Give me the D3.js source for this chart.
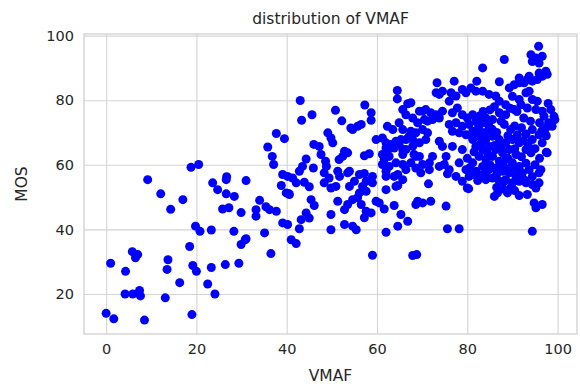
<!DOCTYPE html>
<html>
<head>
<meta charset="utf-8">
<script src="https://cdn.jsdelivr.net/npm/d3@7"></script>
<style>
  body { margin: 0; background: #fff; }
  svg text { font-family: "DejaVu Sans", sans-serif; fill: #262626; }
</style>
</head>
<body>
<svg id="chart" width="580" height="384"></svg>
<script>
(function() {
  var vmaf, mos, xTicks, yTicks, title, xLabel, yLabel;
  var svg, x, y, left, right, top, bottom, g;

  title = 'distribution of VMAF';
  xLabel = 'VMAF';
  yLabel = 'MOS';
  xTicks = [0, 20, 40, 60, 80, 100];
  yTicks = [20, 40, 60, 80, 100];

  // values, one line per group of points
  vmaf = [
    9.2, 12.1, 17.0, 14.3, 19.8, 20.8, 23.3, 28.3, 29.9, 30.8,
    18.5, 5.8, 7.0, 6.5, 1.0, 4.3, 13.7, 13.5, 19.2, 20.0,
    23.3, 26.4, 29.4, 16.3, 22.5, 24.1, 4.2, 5.9, 7.4, 7.6,
    13.1, 0.0, 1.7, 8.5, 19.0, 29.9, 23.6, 24.7, 26.6, 28.4,
    25.8, 27.2, 26.6, 31.0, 18.8, 20.5, 26.7, 37.7, 39.5, 35.8,
    36.8, 37.1, 39.1, 38.8, 39.9, 34.0, 35.4, 33.2, 37.7, 43.0,
    43.3, 45.6, 50.8, 52.2, 57.3, 58.7, 58.7, 64.5, 64.5, 66.8,
    49.1, 49.8, 54.6, 55.7, 56.5, 54.2, 46.0, 47.2, 47.6, 48.6,
    48.8, 50.2, 52.8, 53.5, 52.4, 51.6, 57.2, 58.3, 44.3, 43.5,
    42.8, 45.9, 40.2, 41.3, 48.3, 49.4, 51.3, 51.7, 53.5, 55.0,
    57.2, 59.0, 57.6, 59.8, 61.2, 62.0, 63.1, 64.2, 65.3, 66.4,
    62.3, 63.5, 64.9, 61.2, 62.3, 63.8, 65.7, 61.2, 62.7, 64.2,
    65.7, 62.0, 63.8, 65.7, 40.4, 42.1, 43.9, 45.0, 48.3, 49.8,
    50.9, 53.9, 56.8, 57.6, 59.0, 56.1, 64.6, 62.0, 36.2, 33.2,
    45.4, 46.1, 44.3, 43.2, 45.0, 42.8, 39.1, 40.2, 49.8, 49.8,
    51.3, 52.8, 53.5, 54.6, 55.7, 56.5, 57.6, 58.7, 57.2, 52.8,
    54.6, 55.4, 59.8, 61.6, 63.8, 65.3, 66.8, 64.6, 62.0, 35.1,
    31.0, 41.0, 42.1, 36.5, 59.0, 70.1, 71.2, 69.0, 70.1,
    71.2, 68.6, 67.5, 67.9, 62.0, 62.7, 61.6, 64.9, 68.2, 69.4,
    67.5, 68.6, 70.1, 53.9, 56.1, 62.0, 64.2, 64.6, 40.6, 60.5,
    95.8, 94.1, 95.2, 96.6, 94.4, 95.9, 88.2, 83.4, 97.4, 96.6,
    95.5, 94.4, 93.3, 92.6, 91.5, 90.4, 89.3, 97.7, 82.1, 77.1,
    73.3, 87.1, 73.1, 74.5, 76.4, 77.5, 76.0, 73.8, 78.9, 79.7,
    80.8, 81.9, 83.4, 84.8, 86.3, 67.5, 90.0, 91.5, 93.0, 93.7,
    94.4, 95.5, 88.5, 87.1, 90.4, 91.9, 93.3, 95.2, 96.6, 98.5,
    99.2, 69.4, 70.8, 71.9, 73.1, 74.5, 73.8, 72.3, 70.5, 67.9,
    66.4, 65.7, 76.7, 77.8, 78.9, 80.0, 81.2, 82.6, 84.1, 85.6,
    87.1, 76.0, 77.5, 78.9, 80.4, 81.9, 83.4, 84.8, 82.6, 81.2,
    79.7, 78.2, 76.7, 88.2, 89.6, 91.1, 94.4, 95.9, 97.4, 98.8,
    96.6, 97.5, 94.4, 93.0, 94.1, 65.7, 67.1, 70.8, 69.4, 67.9,
    66.4, 65.7, 68.6, 72.3, 66.4, 71.6, 73.8, 76.0, 75.3, 74.5,
    76.7, 78.9, 78.2, 79.7, 77.5, 78.9, 81.2, 82.6, 84.1, 85.6,
    87.1, 88.5, 90.0, 91.5, 81.9, 83.4, 84.8, 86.3, 87.8, 89.3,
    90.8, 82.6, 84.1, 85.6, 87.1, 88.5, 90.0, 91.5, 81.2, 83.4,
    84.8, 86.3, 87.8, 89.3, 90.8, 92.2, 93.7, 80.4, 82.6, 84.1,
    85.6, 87.1, 88.5, 90.0, 93.0, 94.4, 95.9, 71.4, 80.0, 82.3,
    86.0, 86.7, 88.9, 89.6, 88.2, 91.5, 93.0, 94.4, 95.9, 95.2,
    93.3, 94.8, 95.2, 96.6, 69.0, 70.1, 71.9, 68.6, 75.3, 75.6,
    78.2, 94.4, 67.9, 68.8, 73.8, 71.6, 69.7, 74.9, 75.6, 80.3,
    81.2, 84.1, 96.3, 97.7, 91.5, 93.7, 95.9, 97.9, 99.4, 98.0,
    80.0, 81.5, 83.0, 84.5, 86.0, 87.5, 89.0, 90.5, 92.0, 93.0,
    80.5, 82.0, 83.5, 85.0, 86.5, 88.0, 89.5, 91.0, 92.5, 86.5,
    81.0, 82.5, 84.0, 85.5, 86.5, 87.5, 89.0, 90.5, 92.0, 93.0,
    83.5, 85.0, 86.0, 88.5, 89.5, 91.0, 92.5, 94.0, 96.0, 97.0,
    95.0, 96.0, 95.0, 93.5, 92.5, 97.5, 96.5, 88.0, 90.5, 91.5
  ];

  mos = [
    55.4, 51.0, 49.2, 46.2, 41.0, 39.4, 39.8, 39.4, 35.3, 36.8,
    34.7, 33.1, 32.2, 31.2, 29.5, 27.0, 30.6, 27.6, 28.8, 27.0,
    28.2, 29.1, 29.5, 23.5, 23.1, 20.0, 20.0, 20.0, 21.1, 19.4,
    18.8, 14.0, 12.3, 11.9, 13.6, 45.2, 54.4, 52.3, 51.0, 50.2,
    46.3, 46.7, 55.4, 55.1, 59.2, 60.1, 56.3, 69.7, 68.1, 65.5,
    62.6, 60.1, 57.0, 53.6, 51.3, 49.0, 47.0, 46.1, 45.6, 79.9,
    73.8, 75.5, 76.9, 73.6, 78.5, 76.1, 73.8, 83.0, 80.4, 78.9,
    69.9, 68.3, 70.9, 71.9, 72.5, 71.4, 66.3, 65.7, 63.2, 61.1,
    59.5, 66.8, 64.2, 63.7, 62.6, 61.6, 62.8, 63.4, 61.8, 59.5,
    58.0, 59.0, 56.4, 55.9, 57.5, 55.9, 58.0, 56.4, 57.5, 54.9,
    57.3, 56.4, 54.9, 67.8, 68.3, 66.8, 66.3, 67.3, 67.8, 67.8,
    71.9, 70.9, 73.0, 63.2, 64.2, 65.2, 64.7, 60.1, 59.5, 60.6,
    60.1, 56.4, 56.4, 55.4, 51.1, 54.4, 54.6, 53.2, 54.4, 52.8,
    53.3, 53.3, 53.3, 51.8, 54.4, 51.3, 53.6, 52.3, 46.1, 44.1,
    49.2, 47.4, 45.1, 43.0, 43.5, 40.2, 42.0, 41.5, 44.6, 39.9,
    48.7, 46.1, 47.7, 49.2, 49.8, 47.7, 45.6, 45.1, 43.6, 41.5,
    41.0, 39.9, 48.7, 46.3, 47.4, 44.6, 42.5, 41.0, 39.1, 38.9,
    37.1, 36.8, 35.6, 32.5, 32.0, 76.6, 73.5, 73.0, 70.9,
    69.9, 69.9, 70.4, 67.8, 65.2, 62.6, 61.6, 66.3, 63.2, 62.6,
    60.6, 59.0, 60.1, 58.0, 57.0, 58.0, 53.3, 57.0, 50.8, 48.2,
    96.7, 94.1, 93.1, 93.6, 92.0, 91.5, 92.6, 90.0, 89.0, 87.4,
    86.4, 85.9, 86.4, 85.4, 85.4, 84.8, 83.8, 88.0, 85.9, 85.9,
    85.4, 85.7, 82.3, 82.8, 82.3, 81.3, 79.7, 81.8, 83.3, 82.3,
    83.8, 82.8, 82.8, 81.8, 81.3, 79.2, 81.2, 80.2, 82.3, 82.8,
    80.2, 79.7, 78.6, 79.7, 77.1, 78.6, 77.6, 77.1, 76.6, 77.1,
    75.0, 76.6, 77.1, 76.1, 75.5, 76.6, 74.5, 74.0, 74.0, 74.5,
    75.5, 77.1, 76.1, 77.6, 75.5, 74.5, 75.5, 75.0, 74.5, 74.0,
    76.1, 72.5, 73.0, 71.9, 72.5, 73.5, 73.0, 71.9, 70.9, 70.4,
    69.3, 69.9, 70.4, 72.5, 70.9, 69.3, 70.9, 69.3, 71.4, 71.9,
    66.8, 63.9, 67.8, 64.7, 63.7, 70.9, 68.8, 67.8, 66.8, 65.7,
    64.7, 63.2, 62.6, 62.6, 58.5, 60.6, 59.5, 58.5, 62.6, 65.7,
    65.7, 64.7, 60.6, 58.5, 56.4, 54.9, 67.8, 68.8, 67.8, 68.8,
    67.8, 66.8, 67.8, 66.8, 65.7, 64.7, 65.7, 64.7, 63.7, 64.7,
    63.2, 62.6, 61.6, 62.6, 61.1, 61.6, 60.6, 59.5, 60.6, 59.5,
    58.5, 59.0, 58.0, 57.5, 56.4, 57.5, 58.5, 56.4, 56.4, 55.4,
    55.9, 54.9, 55.4, 54.4, 54.9, 56.4, 57.5, 54.1, 52.8, 55.1,
    50.2, 51.3, 51.3, 52.8, 54.9, 54.9, 54.4, 53.9, 54.4, 52.8,
    50.8, 48.2, 46.7, 47.7, 48.7, 48.2, 48.7, 47.7, 47.2, 40.2,
    40.2, 39.4, 31.9, 32.2, 67.3, 58.5, 57.5, 60.1, 57.2, 52.6,
    57.0, 57.5, 58.5, 63.7, 86.9, 87.4, 88.4, 79.0, 74.0, 73.0,
    62.0, 64.0, 66.5, 63.5, 66.0, 65.5, 62.0, 65.0, 62.5, 60.5,
    59.0, 58.0, 57.0, 60.0, 57.0, 59.5, 59.0, 58.5, 55.5, 53.0,
    69.0, 72.0, 70.0, 71.0, 70.0, 73.5, 69.0, 72.0, 71.5, 69.5,
    76.5, 77.0, 78.0, 75.5, 77.5, 76.5, 74.5, 73.5, 73.0, 75.0,
    65.0, 62.0, 60.0, 66.0, 67.5, 69.0, 70.5, 52.5, 52.0, 50.5
  ];

  left = 84;
  right = 577;
  top = 34;
  bottom = 334;

  svg = d3.select('#chart');

  x = d3.scaleLinear().domain([-4.9, 104.3]).range([left, right]);
  y = d3.scaleLinear().domain([7.6, 100.5]).range([bottom, top]);

  // grid lines
  g = svg.append('g').attr('transform', 'translate(0,' + bottom + ')')
    .call(d3.axisBottom(x).tickValues(xTicks).tickSize(-(bottom - top)).tickPadding(10).tickFormat(d3.format('d')));
  g.select('.domain').remove();
  g.selectAll('line').attr('stroke', '#d4d4d4').attr('stroke-width', 1.1);
  g.selectAll('text').attr('font-size', '14.5px').attr('fill', '#333');

  g = svg.append('g').attr('transform', 'translate(' + left + ',0)')
    .call(d3.axisLeft(y).tickValues(yTicks).tickSize(-(right - left)).tickPadding(10).tickFormat(d3.format('d')));
  g.select('.domain').remove();
  g.selectAll('line').attr('stroke', '#d4d4d4').attr('stroke-width', 1.1);
  g.selectAll('text').attr('font-size', '14.5px').attr('fill', '#333');

  svg.append('rect')
    .attr('x', left).attr('y', top)
    .attr('width', right - left).attr('height', bottom - top)
    .attr('fill', 'none').attr('stroke', '#d4d4d4').attr('stroke-width', 1.4);

  svg.append('g').selectAll('circle').data(vmaf).enter().append('circle')
    .attr('cx', function(d) { return x(d); })
    .attr('cy', function(d, i) { return y(mos[i]); })
    .attr('r', 4.5)
    .attr('fill', '#0000ff');

  svg.append('text').attr('x', (left + right) / 2).attr('y', 24)
    .attr('text-anchor', 'middle').attr('font-size', '15.5px').attr('fill', '#333').text(title);

  svg.append('text').attr('x', (left + right) / 2).attr('y', 381)
    .attr('text-anchor', 'middle').attr('font-size', '15.5px').attr('fill', '#333').text(xLabel);

  svg.append('text').attr('transform', 'translate(27,' + ((top + bottom) / 2) + ') rotate(-90)')
    .attr('text-anchor', 'middle').attr('font-size', '15.5px').attr('fill', '#333').text(yLabel);
})();
</script>
</body>
</html>
